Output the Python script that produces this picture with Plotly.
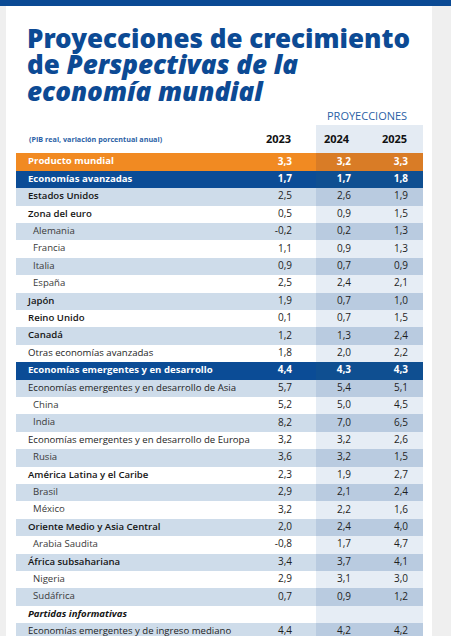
import plotly.graph_objects as go

# ---------------- data ----------------
labels = [
    "Producto mundial", "Economías avanzadas", "Estados Unidos", "Zona del euro",
    "Alemania", "Francia", "Italia", "España", "Japón", "Reino Unido", "Canadá",
    "Otras economías avanzadas", "Economías emergentes y en desarrollo",
    "Economías emergentes y en desarrollo de Asia", "China", "India",
    "Economías emergentes y en desarrollo de Europa", "Rusia",
    "América Latina y el Caribe", "Brasil", "México", "Oriente Medio y Asia Central",
    "Arabia Saudita", "África subsahariana", "Nigeria", "Sudáfrica",
    "Partidas informativas", "Economías emergentes y de ingreso mediano",
]
kinds = [
    "world", "group", "bold", "bold", "indent", "indent", "indent", "indent",
    "bold", "bold", "bold", "reg", "group", "reg", "indent", "indent", "reg",
    "indent", "bold", "indent", "indent", "bold", "indent", "bold", "indent",
    "indent", "italic", "reg",
]
shaded = [0, 0, 1, 0, 1, 0, 1, 0, 1, 0, 1, 0, 0, 1, 0, 1, 0, 1, 0, 1, 0, 1, 0, 1, 0, 1, 0, 1]
v2023 = [3.3, 1.7, 2.5, 0.5, -0.2, 1.1, 0.9, 2.5, 1.9, 0.1, 1.2, 1.8, 4.4, 5.7, 5.2, 8.2,
         3.2, 3.6, 2.3, 2.9, 3.2, 2.0, -0.8, 3.4, 2.9, 0.7, None, 4.4]
v2024 = [3.2, 1.7, 2.6, 0.9, 0.2, 0.9, 0.7, 2.4, 0.7, 0.7, 1.3, 2.0, 4.3, 5.4, 5.0, 7.0,
         3.2, 3.2, 1.9, 2.1, 2.2, 2.4, 1.7, 3.7, 3.1, 0.9, None, 4.2]
v2025 = [3.3, 1.8, 1.9, 1.5, 1.3, 1.3, 0.9, 2.1, 1.0, 1.5, 2.4, 2.2, 4.3, 5.1, 4.5, 6.5,
         2.6, 1.5, 2.7, 2.4, 1.6, 4.0, 4.7, 4.1, 3.0, 1.2, None, 4.2]
years = ["2023", "2024", "2025"]

# ---------------- style ----------------
W, H = 451, 636
ROW_TOP, ROW_H = 153.3, 17.4
TABLE_L, PROJ_L, TABLE_R = 16, 316, 423
VAL_X = [292, 351, 408]
FONT = "Open Sans"
TITLE_FONT = "Noto Sans"
BLUE = "#0c4a94"

def fmt(v):
    return "" if v is None else f"{v:.1f}".replace(".", ",")

n = len(labels)
rows = list(range(n))

left_fill, right_fill = [], []
for k, s in zip(kinds, shaded):
    if k == "world":
        left_fill.append("#f18a22"); right_fill.append("#d97c26")
    elif k == "group":
        left_fill.append("#0b4c96"); right_fill.append("#0f4f91")
    elif s:
        left_fill.append("#cedcea"); right_fill.append("#b9cbe0")
    else:
        left_fill.append("#ffffff"); right_fill.append("#e6edf5")

fig = go.Figure()
fig.add_trace(go.Bar(y=rows, x=[PROJ_L - TABLE_L] * n, base=[TABLE_L] * n, orientation="h",
                     width=1, marker=dict(color=left_fill, line=dict(width=0)),
                     hoverinfo="skip", showlegend=False))
fig.add_trace(go.Bar(y=rows, x=[TABLE_R - PROJ_L] * n, base=[PROJ_L] * n, orientation="h",
                     width=1, marker=dict(color=right_fill, line=dict(width=0)),
                     hoverinfo="skip", showlegend=False))

label_style = {
    "world": dict(color="#ffffff", weight=700, style="normal", x=28),
    "group": dict(color="#ffffff", weight=700, style="normal", x=28),
    "bold": dict(color="#151515", weight=600, style="normal", x=28),
    "reg": dict(color="#1e1e1e", weight=400, style="normal", x=28),
    "indent": dict(color="#3a3a3a", weight=400, style="normal", x=33),
    "italic": dict(color="#151515", weight=700, style="italic", x=28),
}
for kind, st in label_style.items():
    idx = [i for i in rows if kinds[i] == kind]
    fig.add_trace(go.Scatter(
        x=[st["x"]] * len(idx), y=idx, text=[labels[i] for i in idx], mode="text",
        textposition="middle right", hoverinfo="skip", showlegend=False,
        textfont=dict(family=FONT, size=9.6, color=st["color"], weight=st["weight"],
                      style=st["style"])))

for vals, xv in zip([v2023, v2024, v2025], VAL_X):
    for white in (True, False):
        idx = [i for i in rows if (kinds[i] in ("world", "group")) == white and vals[i] is not None]
        fig.add_trace(go.Scatter(
            x=[xv] * len(idx), y=idx, text=[fmt(vals[i]) for i in idx], mode="text",
            textposition="middle left", hoverinfo="skip", showlegend=False,
            textfont=dict(family=FONT, size=10, color="#ffffff" if white else "#1e1e1e",
                          weight=700 if white else 500)))

def py(p):
    return 1 - p / H

shapes = [
    dict(type="rect", xref="paper", yref="paper", x0=6 / W, x1=432 / W, y0=0, y1=py(6),
         fillcolor="#ffffff", line=dict(width=0), layer="below"),
    dict(type="rect", xref="paper", yref="paper", x0=0, x1=1, y0=py(6), y1=1,
         fillcolor="#0b4a94", line=dict(width=0), layer="below"),
    dict(type="rect", xref="paper", yref="paper", x0=PROJ_L / W, x1=TABLE_R / W, y0=py(153.3), y1=py(125),
         fillcolor="#e4ebf3", line=dict(width=0), layer="below"),
]

ann = []
title_lines = [("Proyecciones de crecimiento", 38), ("de <i>Perspectivas de la</i>", 64.5), ("<i>economía mundial</i>", 91)]
for t, yp in title_lines:
    ann.append(dict(text=t, x=25 / W, y=py(yp), xref="paper", yref="paper", xanchor="left",
                    yanchor="middle", showarrow=False,
                    font=dict(family=TITLE_FONT, size=26, color=BLUE, weight=900)))
ann.append(dict(text="PROYECCIONES", x=409 / W, y=py(115), xref="paper", yref="paper",
                xanchor="right", yanchor="middle", showarrow=False,
                font=dict(family=FONT, size=11, color="#2b5fa6", weight=500)))
ann.append(dict(text="(PIB real, variación porcentual anual)", x=27 / W, y=py(138.5), xref="paper",
                yref="paper", xanchor="left", yanchor="middle", showarrow=False,
                font=dict(family=FONT, size=7.2, color="#2b5fa6", weight=700)))
for yr, xv in zip(years, VAL_X):
    ann.append(dict(text=yr, x=(xv + 1) / W, y=py(138.5), xref="paper", yref="paper",
                    xanchor="right", yanchor="middle", showarrow=False,
                    font=dict(family=FONT, size=11, color="#111111", weight=700)))

fig.update_layout(
    width=W, height=H, margin=dict(l=0, r=0, t=0, b=0),
    paper_bgcolor="#efefef", plot_bgcolor="rgba(0,0,0,0)",
    barmode="overlay", bargap=0,
    xaxis=dict(range=[0, W], visible=False, fixedrange=True),
    yaxis=dict(range=[(H - ROW_TOP) / ROW_H - 0.5, -ROW_TOP / ROW_H - 0.5], visible=False,
               fixedrange=True),
    shapes=shapes, annotations=ann,
)
fig.write_html("out.html", config={"displayModeBar": False},
               post_script="document.body.style.margin='0';document.body.style.overflow='hidden';")
